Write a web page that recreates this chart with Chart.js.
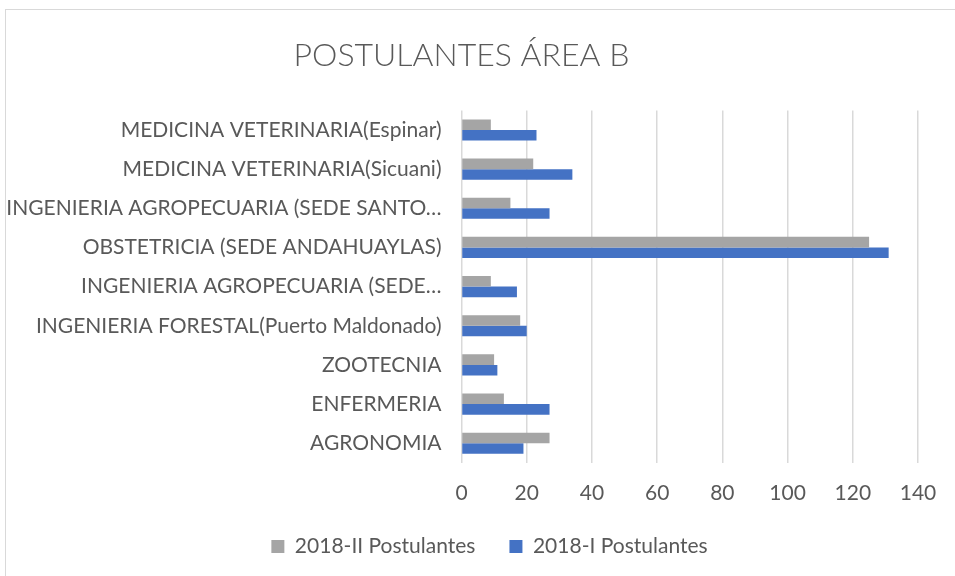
<!DOCTYPE html>
<html>
<head>
<meta charset="utf-8">
<script src="https://cdn.jsdelivr.net/npm/chart.js@4.4.1/dist/chart.umd.min.js"></script>
<style>
  html, body { margin: 0; padding: 0; background: #fff; }
  #wrap { width: 955px; height: 576px; }
</style>
</head>
<body>
<div id="wrap"><canvas id="chart"></canvas></div>
<script>
// carreras (de arriba hacia abajo, como en el gráfico)
const carreras = [
  "MEDICINA VETERINARIA(Espinar)",
  "MEDICINA VETERINARIA(Sicuani)",
  "INGENIERIA AGROPECUARIA (SEDE SANTO…",
  "OBSTETRICIA (SEDE ANDAHUAYLAS)",
  "INGENIERIA AGROPECUARIA (SEDE…",
  "INGENIERIA FORESTAL(Puerto Maldonado)",
  "ZOOTECNIA",
  "ENFERMERIA",
  "AGRONOMIA"
];
const postulantes2018II = [9, 22, 15, 125, 9, 18, 10, 13, 27];
const postulantes2018I = [23, 34, 27, 131, 17, 20, 11, 27, 19];

const textColor = "#595959";
const fontFamily = "Lato, Carlito, 'Open Sans', sans-serif";

// thin frame like the Excel chart area, and nudge the legend to the right
const frame = {
  id: "frame",
  afterLayout(chart) {
    chart.legend.left += 28;
    chart.legend.right += 28;
  },
  afterDraw(chart) {
    const ctx = chart.ctx;
    ctx.save();
    ctx.strokeStyle = "#D9D9D9";
    ctx.lineWidth = 1;
    ctx.strokeRect(5.5, 9.5, 1000, 1000);
    ctx.restore();
  }
};

new Chart(document.getElementById("chart"), {
  type: "bar",
  data: {
    labels: carreras,
    datasets: [
      {
        label: "2018-II Postulantes",
        data: postulantes2018II,
        backgroundColor: "#A5A5A5",
        barPercentage: 1,
        categoryPercentage: 0.54
      },
      {
        label: "2018-I Postulantes",
        data: postulantes2018I,
        backgroundColor: "#4472C4",
        barPercentage: 1,
        categoryPercentage: 0.54
      }
    ]
  },
  options: {
    indexAxis: "y",
    responsive: true,
    maintainAspectRatio: false,
    animation: false,
    layout: { padding: { left: 5, right: 37, top: 26, bottom: 9 } },
    plugins: {
      title: {
        display: true,
        text: "POSTULANTES ÁREA B",
        color: textColor,
        font: { family: fontFamily, size: 32, weight: "300" },
        padding: { top: 10, bottom: 36 }
      },
      legend: {
        position: "bottom",
        labels: {
          color: textColor,
          font: { family: fontFamily, size: 21 },
          boxWidth: 13,
          boxHeight: 13,
          padding: 34
        }
      },
      tooltip: { enabled: false }
    },
    scales: {
      x: {
        min: 0,
        max: 140,
        ticks: {
          stepSize: 20,
          color: textColor,
          font: { family: fontFamily, size: 21 },
          padding: 18
        },
        grid: { color: "#D9D9D9", lineWidth: 1.5, drawTicks: false },
        border: { display: false },
        // let the tick labels hang into the legend's empty top padding
        afterFit(scale) { scale.height -= 22; }
      },
      y: {
        ticks: {
          color: textColor,
          font: { family: fontFamily, size: 21 },
          padding: 20,
          autoSkip: false
        },
        grid: { display: false, drawTicks: false },
        border: { display: false }
      }
    }
  },
  plugins: [frame]
});
</script>
</body>
</html>
